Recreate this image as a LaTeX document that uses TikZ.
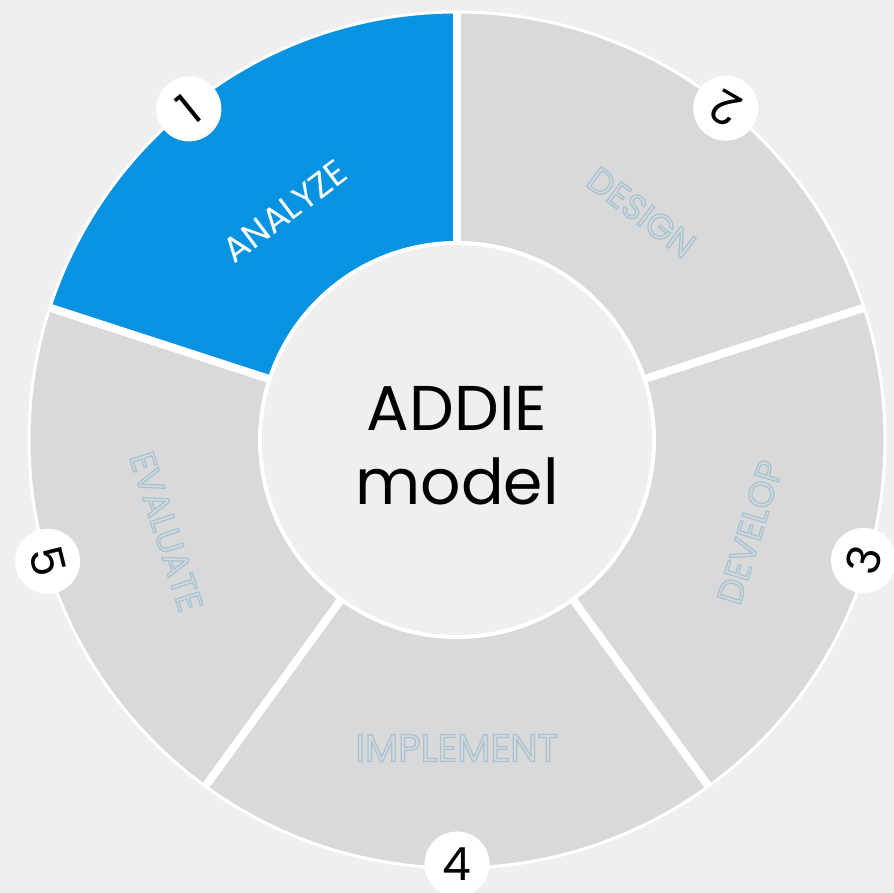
\documentclass[tikz,border=0pt]{standalone}
\usepackage{fontspec}
\setmainfont{Poppins}
\definecolor{pagebg}{HTML}{F0EEEF}
\definecolor{analyzeblue}{HTML}{0893E2}
\definecolor{sectorgray}{HTML}{D9D9D9}
\definecolor{outlineblue}{HTML}{A3C2D4}
\newcommand{\hollow}[1]{\special{pdf:literal direct 1 Tr 0.35 w}#1\special{pdf:literal direct 0 Tr}}

\begin{document}
\begin{tikzpicture}
\tikzstyle{phase}=[font=\fontsize{10}{12}\selectfont, text=outlineblue, inner sep=0pt]
\tikzstyle{stepnum}=[circle, fill=white, minimum size=0.65cm, inner sep=0pt, font=\fontsize{13}{15}\selectfont]
\tikzstyle{gap}=[draw=white, line width=0.08cm]

\fill[pagebg] (-4.57,-4.53) rectangle (4.37,4.40);
\useasboundingbox (-4.57,-4.53) rectangle (4.37,4.40);

% the five phases
\fill[analyzeblue] (0,0) -- (90:4.28) arc[start angle=90, end angle=162, radius=4.28] -- cycle;
\fill[sectorgray] (0,0) -- (18:4.28) arc[start angle=18, end angle=90, radius=4.28] -- cycle;
\fill[sectorgray] (0,0) -- (-54:4.28) arc[start angle=-54, end angle=18, radius=4.28] -- cycle;
\fill[sectorgray] (0,0) -- (-126:4.28) arc[start angle=-126, end angle=-54, radius=4.28] -- cycle;
\fill[sectorgray] (0,0) -- (162:4.28) arc[start angle=162, end angle=234, radius=4.28] -- cycle;

\draw[gap] (90:1.9) -- (90:4.28);
\draw[gap] (18:1.9) -- (18:4.28);
\draw[gap] (-54:1.9) -- (-54:4.28);
\draw[gap] (-126:1.9) -- (-126:4.28);
\draw[gap] (162:1.9) -- (162:4.28);
\draw[white, line width=0.03cm] (0,0) circle (4.28);
\draw[white, line width=0.04cm, fill=pagebg] (0,0) circle (1.97);

\node[align=center, font=\fontsize{18}{21}\selectfont] (title) at (0,-0.06) {ADDIE\\model};

\node[phase, text=white, rotate=37] (analyze) at (127:2.86) {ANALYZE};
\node[phase, rotate=-37] (design) at (51:2.93) {\hollow{DESIGN}};
\node[phase, rotate=73] (develop) at (-17.5:3.07) {\hollow{DEVELOP}};
\node[phase, font=\fontsize{11}{13}\selectfont] (implement) at (-90:3.08) {\hollow{IMPLEMENT}};
\node[phase, rotate=-72] (evaluate) at (197.5:3.05) {\hollow{EVALUATE}};

\node[stepnum, rotate=39] (one) at (129:4.26) {1};
\node[stepnum, rotate=150] (two) at (51:4.27) {2};
\node[stepnum, rotate=75] (three) at (-16.5:4.24) {3};
\node[stepnum] (four) at (-90:4.24) {4};
\node[stepnum, rotate=-76] (five) at (196.5:4.27) {5};
\end{tikzpicture}
\end{document}
